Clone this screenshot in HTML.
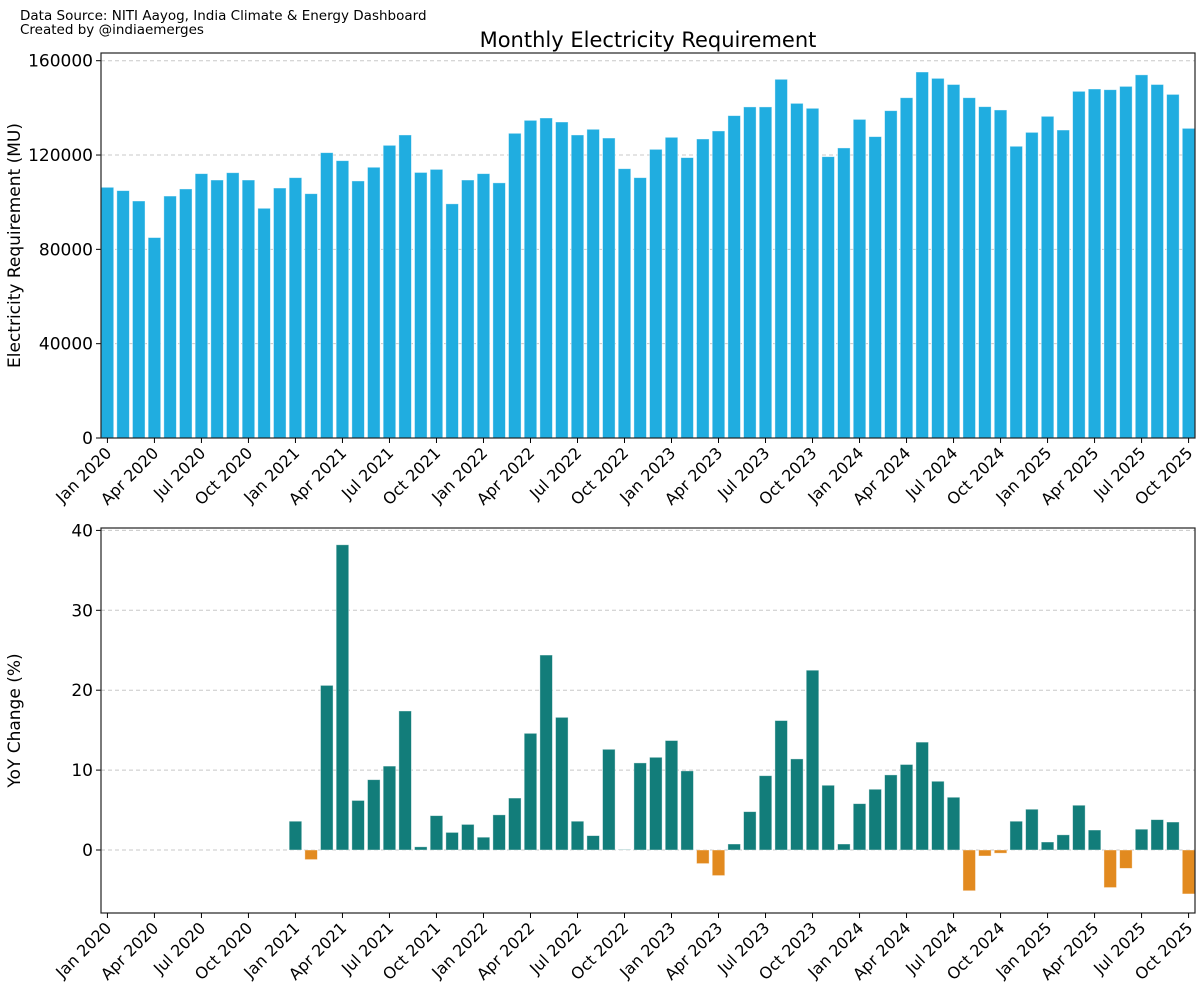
<!DOCTYPE html>
<html><head><meta charset="utf-8"><style>
body{margin:0;background:#fff;}
svg{display:block;font-family:"DejaVu Sans","Liberation Sans",sans-serif;}
</style></head><body>
<svg id="c" width="1200" height="993" viewBox="0 0 1200 993">
<text x="20" y="20" font-size="13.5" fill="#000">Data Source: NITI Aayog, India Climate &amp; Energy Dashboard</text>
<text x="20" y="34" font-size="13.5" fill="#000">Created by @indiaemerges</text>
<text x="648" y="47" font-size="21" text-anchor="middle" fill="#000">Monthly Electricity Requirement</text>
</svg>
<script>
const monthNames=["Jan","Feb","Mar","Apr","May","Jun","Jul","Aug","Sep","Oct","Nov","Dec"];
const requirement=[106.3,104.9,100.5,85.0,102.6,105.6,112.1,109.4,112.5,109.4,97.4,106.0,
110.4,103.6,121.0,117.6,109.0,114.8,124.1,128.5,112.6,113.9,99.3,109.4,
112.1,108.2,129.2,134.7,135.7,134.0,128.5,130.9,127.2,114.2,110.4,122.4,
127.5,118.9,126.8,130.2,136.7,140.4,140.4,152.1,141.9,139.8,119.3,123.0,
135.1,127.8,138.8,144.3,155.2,152.5,149.9,144.3,140.5,139.1,123.7,129.6,
136.4,130.6,147.0,148.0,147.7,149.1,154.0,149.9,145.7,131.3].map(v=>v*1000);
const yoy=[null,null,null,null,null,null,null,null,null,null,null,null,
3.6,-1.2,20.6,38.2,6.2,8.8,10.5,17.4,0.4,4.3,2.2,3.2,
1.6,4.4,6.5,14.6,24.4,16.6,3.6,1.8,12.6,0.05,10.9,11.6,
13.7,9.9,-1.7,-3.2,0.75,4.8,9.3,16.2,11.4,22.5,8.1,0.75,
5.8,7.6,9.4,10.7,13.5,8.6,6.6,-5.1,-0.75,-0.4,3.6,5.1,
1.0,1.9,5.6,2.5,-4.7,-2.3,2.6,3.8,3.5,-5.5];
const topTicks=[0,40000,80000,120000,160000];
const botTicks=[0,10,20,30,40];
const categories=requirement.map((v,i)=>monthNames[i%12]+" "+(2020+Math.floor(i/12)));

const NS="http://www.w3.org/2000/svg";
const svg=document.getElementById('c');
function el(t,a,p){const e=document.createElementNS(NS,t);for(const k in a)e.setAttribute(k,a[k]);(p||svg).appendChild(e);return e;}
const L=101,R=1195,n=requirement.length;
const unit=(R-L)/(n-1+0.8+0.02);
const xc=i=>L+unit*(0.41+i);

function panel(cfg){
  const g=el('g',{});
  
  
  const y=v=>cfg.bottom-(v-cfg.min)/(cfg.max-cfg.min)*(cfg.bottom-cfg.top);
  cfg.ticks.forEach(t=>{
    const gl=el('line',{x1:L,x2:R,y1:y(t),y2:y(t),stroke:'#c8c8c8','stroke-dasharray':'4,3','stroke-width':1},g);
    
    
    el('line',{x1:L-5,x2:L,y1:y(t),y2:y(t),stroke:'#000'},g);
    const tx=el('text',{x:L-8,y:y(t)+6,'font-size':17,'text-anchor':'end'},g);
    tx.textContent=t;
    
    
  });
  cfg.values.forEach((v,i)=>{
    if(v===null)return;
    const y0=y(0),y1=y(v);
    const c=cfg.color(v);
    const r=el('rect',{x:xc(i)-unit*0.4,y:Math.min(y0,y1),width:unit*0.8,height:Math.abs(y1-y0),fill:c,stroke:'#ffffff','stroke-opacity':0.5,'stroke-width':0.8},g);
    
    
  });
  el('rect',{x:L,y:cfg.top,width:R-L,height:cfg.bottom-cfg.top,fill:'none',stroke:'#222','stroke-width':1.2},g);
  categories.forEach((c,i)=>{
    if(i%3)return;
    const x=xc(i);
    el('line',{x1:x,x2:x,y1:cfg.bottom,y2:cfg.bottom+5,stroke:'#000'},g);
    const tx=el('text',{x:x+5,y:cfg.bottom+16,'font-size':16,'text-anchor':'end',transform:`rotate(-45 ${x+5} ${cfg.bottom+16})`},g);
    tx.textContent=c;
    
    
  });
  const yl=el('text',{x:0,y:0,'font-size':17,'text-anchor':'middle',transform:`translate(20 ${(cfg.top+cfg.bottom)/2}) rotate(-90)`},g);
  yl.textContent=cfg.ylabel;
  
  
}
panel({name:'requirement-panel',top:53,bottom:438,min:0,max:(438-53)/(438-60.7)*160000,ticks:topTicks,values:requirement,color:()=>'#20ade0',ylabel:'Electricity Requirement (MU)'});
panel({name:'yoy-panel',top:528,bottom:913,min:-(913-850)/7.99,max:(850-528)/7.99,ticks:botTicks,values:yoy,color:v=>v>=0?'#127d7a':'#e28a1f',ylabel:'YoY Change (%)'});
</script>
</body></html>
